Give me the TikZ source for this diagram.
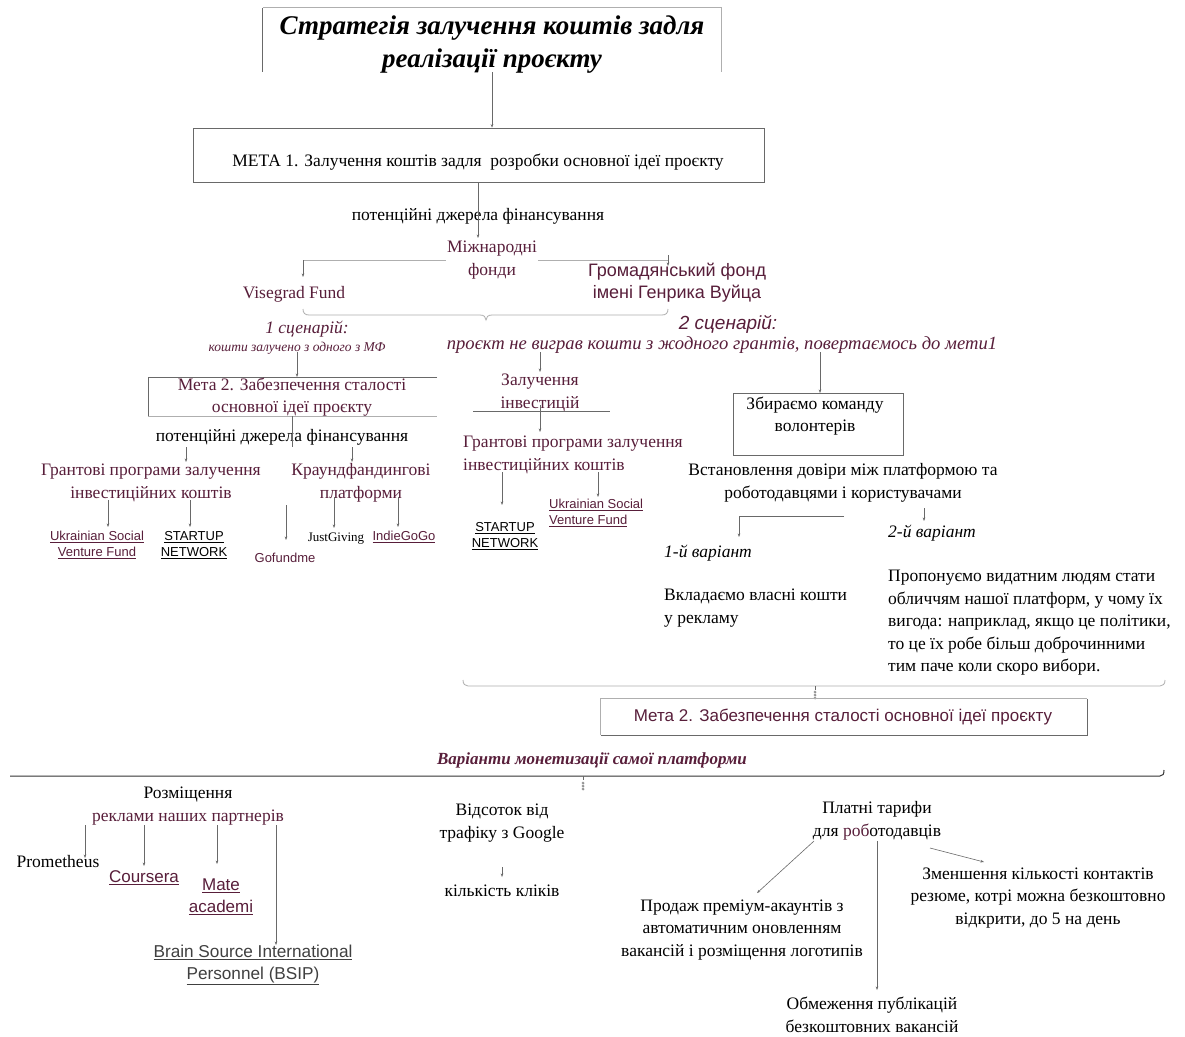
\documentclass[tikz,border=0pt]{standalone}
\usepackage{fontspec}
\setmainfont{Liberation Serif}
\setsansfont{Liberation Sans}
\usetikzlibrary{arrows.meta}
\definecolor{mar}{RGB}{88,30,58}
\definecolor{ln}{RGB}{105,105,105}
\definecolor{lnl}{RGB}{175,175,175}
\begin{document}
\begin{tikzpicture}[x=1pt,y=-1pt,
  tx/.style={inner sep=0pt, align=center, font=\fontsize{17.5}{22.5}\selectfont},
  txl/.style={tx, align=left, anchor=west},
  sf/.style={inner sep=0pt, align=center, font=\sffamily\fontsize{13}{16.5}\selectfont},
  lnk/.style={sf, text=mar},
  arr/.style={draw=ln, line width=0.6pt, -{Stealth[length=3.5pt,width=2.6pt]}},
  plain/.style={draw=ln, line width=0.6pt},
  light/.style={draw=lnl, line width=0.8pt},
  frame/.style={draw=lnl, line width=0.8pt, inner sep=0pt},
  glyph/.style={draw=ln, line width=0.4pt}
]
\useasboundingbox (0,0) rectangle (1185,1036);
\fill[white] (0,0) rectangle (1185,1036);

% ---------- title
\node[inner sep=0pt, minimum width=458pt, minimum height=64pt] (titlebox) at (492,40) {};
\draw[lnl, line width=0.8pt] (titlebox.north west) -- (titlebox.north east) -- (titlebox.south east);
\draw[ln, line width=0.8pt] (titlebox.north west) -- (titlebox.south west);
\node[inner sep=0pt, align=center, font=\bfseries\itshape\fontsize{27}{33}\selectfont] (title) at (492,45)
  {Стратегія залучення коштів задля\\реалізації проєкту};

% ---------- goal 1
\node[frame, draw=ln, minimum width=571pt, minimum height=54pt] (meta1) at (478.5,155) {};
\node[tx] (meta1t) at (478,162) {МЕТА 1. Залучення коштів задля\ \ розробки основної ідеї проєкту};
\draw[arr] (titlebox.south) -- (meta1.north -| titlebox.south);

\node[tx] (pdf1) at (478,216) {потенційні джерела фінансування};

% international funds
\draw[light] (303,260) -- (668,260);
\node[tx, text=mar, fill=white, inner sep=1pt] (mizh) at (492,260) {Міжнародні\\фонди};
\coordinate (m1end) at (478,238);
\draw[arr] (meta1.south -| m1end) -- (m1end);

\node[tx, text=mar] (vis) at (294,294) {Visegrad Fund};
\node[sf, text=mar, font=\sffamily\fontsize{18}{22}\selectfont] (grom) at (677,283) {Громадянський фонд\\імені Генрика Вуйца};
\draw[arr] (303,260) -- (303,277);
\draw[arr] (668,255) -- (668,266);

% brace
\draw[light] (303,309) .. controls (303,313) and (305,315) .. (309,315) -- (480,315)
  .. controls (484,315) and (486,317) .. (486,320) .. controls (486,317) and (488,315) .. (492,315)
  -- (662,315) .. controls (666,315) and (668,313) .. (668,309);

\node[tx, text=mar, font=\itshape\fontsize{17.5}{22}\selectfont] (sc1) at (307,329) {1 сценарій:};
\node[tx, text=mar, font=\itshape\fontsize{13.5}{15}\selectfont] (sc1t) at (297,348) {кошти залучено з одного з МФ};
\node[sf, text=mar, font=\sffamily\itshape\fontsize{19}{22}\selectfont] (sc2) at (728,324) {2 сценарій:};
\node[tx, text=mar, font=\itshape\fontsize{18.6}{22}\selectfont] (sc2t) at (722,345)
  {проєкт не виграв кошти з жодного грантів, повертаємось до мети1};

% ---------- scenario 1 column
\draw[ln, line width=0.8pt] (437,377) -- (148,377) -- (148,416);
\draw[lnl, line width=0.8pt] (148,416) -- (437,416);
\node[tx, text=mar] (meta2a) at (292,397) {Мета 2. Забезпечення сталості\\основної ідеї проєкту};
\draw[arr] (297,352) -- (297,377);

\node[tx] (pdf2) at (282,437) {потенційні джерела фінансування};
\draw[plain] (292,416) -- (292,447);
\draw[arr] (186,447) -- (186,462);
\draw[arr] (352,447) -- (352,462);

\node[tx, text=mar] (gr1) at (151,483) {Грантові програми залучення\\інвестиційних коштів};
\node[tx, text=mar] (kr) at (361,483) {Краундфандингові\\платформи};

\draw[arr] (108,500) -- (108,527);
\draw[arr] (190,500) -- (190,527);
\draw[arr] (286,505) -- (286,540);
\draw[arr] (334,497) -- (334,528);
\draw[arr] (398,497) -- (398,527);

\node[lnk] (usvf1) at (97,545) {\underline{Ukrainian Social}\\\underline{Venture Fund}};
\node[sf] (st1) at (194,545) {\underline{STARTUP}\\\underline{NETWORK}};
\node[lnk] (gof) at (285,558) {Gofundme};
\node[tx, font=\fontsize{13}{15}\selectfont] (jg) at (336,539) {JustGiving};
\node[lnk] (ind) at (404,537) {\underline{IndieGoGo}};

% ---------- middle column
\draw[arr] (540,352) -- (540,372);
\node[tx, text=mar] (zal) at (540,393) {Залучення\\інвестицій};
\draw[ln, line width=0.8pt] (473,411) -- (610,411);
\draw[arr] (540,405) -- (540,432);
\node[txl, text=mar] (gr2) at (463,455) {Грантові програми залучення\\інвестиційних коштів};
\draw[arr] (502,472) -- (502,505);
\draw[arr] (598,472) -- (598,497);
\node[sf] (st2) at (505,536) {\underline{STARTUP}\\\underline{NETWORK}};
\node[lnk, align=left, anchor=west] (usvf2) at (549,513) {\underline{Ukrainian Social}\\\underline{Venture Fund}};

% ---------- right column
\draw[arr] (820,352) -- (820,393);
\node[draw=ln, line width=0.8pt, minimum width=170pt, minimum height=62pt, inner sep=0pt] (zb) at (818,424) {};
\node[tx] (zbt) at (815,416) {Збираємо команду\\волонтерів};
\node[tx] (vst) at (843,483) {Встановлення довіри між платформою та\\роботодавцями і користувачами};
\draw[plain] (844,516) -- (739,516);
\draw[arr] (739,516) -- (739,537);
\draw[arr] (924,508) -- (924,521);
\node[txl, font=\itshape\fontsize{17.5}{22}\selectfont] (v1) at (664,553) {1-й варіант};
\node[txl, font=\itshape\fontsize{17.5}{22}\selectfont] (v2) at (888,533) {2-й варіант};
\node[txl] (vkl) at (664,608) {Вкладаємо власні кошти\\у рекламу};
\node[txl] (prop) at (888,623) {Пропонуємо видатним людям стати\\обличчям нашої платформ, у чому їх\\вигода: наприклад, якщо це політики,\\то це їх робе більш доброчинними\\тим паче коли скоро вибори.};

% brace 2
\draw[light] (463,680) .. controls (463,684) and (465,686) .. (468,686) -- (1160,686)
  .. controls (1163,686) and (1165,684) .. (1165,680);
\draw[glyph] (815,686) -- (815,690);
\foreach \yy in {692,695,698} \draw[glyph] (815,\yy) circle (1.2pt);

\node[inner sep=0pt, minimum width=486pt, minimum height=36pt] (meta2b) at (844,717) {};
\draw[lnl, line width=0.8pt] (meta2b.south west) -- (meta2b.north west) -- (meta2b.north east);
\draw[ln, line width=0.8pt] (meta2b.north east) -- (meta2b.south east) -- (meta2b.south west);
\node[sf, text=mar, font=\sffamily\fontsize{17}{20}\selectfont] (meta2bt) at (843,717) {Мета 2. Забезпечення сталості основної ідеї проєкту};

% ---------- monetisation
\node[tx, text=mar, font=\bfseries\itshape\fontsize{17}{20}\selectfont] (mon) at (592,760) {Варіанти монетизації самої платформи};
\draw[black!80, line width=1pt] (10,776) -- (1160,776) .. controls (1163,776) and (1164,774) .. (1164,770);
\draw[glyph] (583,776) -- (583,780);
\foreach \yy in {783,786,789} \draw[glyph] (583,\yy) circle (1.2pt);

\node[tx] (roz) at (188,806) {Розміщення\\\textcolor{mar}{реклами наших партнерів}};
\draw[arr] (85,825) -- (85,858);
\draw[arr] (144,825) -- (144,866);
\draw[arr] (217,825) -- (217,864);
\draw[arr] (276,825) -- (276,945);
\node[tx] (prom) at (58,862) {Prometheus};
\node[lnk, font=\sffamily\fontsize{17}{20}\selectfont] (cour) at (144,878) {\underline{Coursera}};
\node[lnk, font=\sffamily\fontsize{17}{22}\selectfont] (mate) at (221,897) {\underline{Mate}\\\underline{academi}};
\node[sf, text=black!75, font=\sffamily\fontsize{17.2}{22}\selectfont] (bsip) at (253,965) {\underline{Brain Source International}\\\underline{Personnel (BSIP)}};

\node[tx] (vids) at (502,823) {Відсоток від\\трафіку з Google};
\draw[arr] (502,867) -- (502,877);
\node[tx] (klik) at (502,891) {кількість кліків};

\node[tx] (plat) at (877,821) {Платні тарифи\\для \textcolor{mar}{роб}отодавців};
\draw[arr] (814,841) -- (757,893);
\draw[arr] (877,841) -- (877,990);
\draw[arr] (930,848) -- (984,862);
\node[tx] (prod) at (742,930) {Продаж преміум-акаунтів з\\автоматичним оновленням\\вакансій і розміщення логотипів};
\node[tx] (zmen) at (1038,898) {Зменшення кількості контактів\\резюме, котрі можна безкоштовно\\відкрити, до 5 на день};
\node[tx] (obm) at (872,1015) {Обмеження публікацій\\безкоштовних вакансій};
\end{tikzpicture}
\end{document}
